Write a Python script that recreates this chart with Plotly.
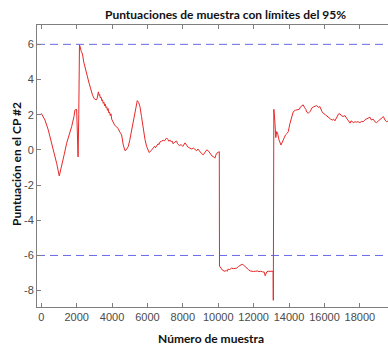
import plotly.graph_objects as go

# Sample index and PC #2 score
sample = [0, 209, 395, 550, 678, 870, 1017, 1150, 1300, 1435, 1580, 1717, 1850, 1904, 2000,
          2040, 2080, 2120, 2160, 2200, 2260, 2330, 2400, 2500, 2600, 2700, 2800, 2900, 3000,
          3100, 3150, 3200, 3230, 3270, 3300, 3340, 3380, 3420, 3460, 3500, 3540, 3580, 3620,
          3660, 3700, 3740, 3780, 3820, 3860, 3900, 3940, 3980, 4030, 4080, 4150, 4250, 4350,
          4450, 4540, 4633, 4730, 4800, 4915, 5000, 5107, 5200, 5294, 5425, 5500, 5576, 5663,
          5763, 5860, 5955, 6030, 6100, 6200, 6300, 6400, 6450, 6520, 6600, 6650, 6706, 6800,
          6900, 6950, 7000, 7085, 7150, 7200, 7300, 7350, 7400, 7450, 7550, 7650, 7700, 7800,
          7900, 8000, 8120, 8200, 8300, 8400, 8500, 8600, 8700, 8780, 8850, 8950, 9050, 9150,
          9250, 9350, 9435, 9550, 9650, 9750, 9810, 9900, 10000, 10060, 10070, 10150, 10250,
          10380, 10450, 10500, 10550, 10650, 10750, 10850, 10950, 11040, 11150, 11250, 11350,
          11410, 11500, 11600, 11700, 11800, 11900, 11980, 12100, 12200, 12300, 12400, 12500,
          12600, 12650, 12700, 12750, 12825, 12950, 13050, 13100, 13110, 13140, 13200, 13250,
          13300, 13350, 13420, 13540, 13600, 13700, 13800, 13900, 13955, 14050, 14150, 14240,
          14350, 14450, 14576, 14650, 14720, 14800, 14880, 14950, 15000, 15085, 15200, 15300,
          15400, 15500, 15560, 15650, 15745, 15850, 15930, 16050, 16150, 16250, 16350, 16450,
          16520, 16590, 16700, 16800, 16875, 16950, 17050, 17160, 17250, 17345, 17400, 17450,
          17500, 17600, 17650, 17720, 17800, 17900, 18000, 18100, 18190, 18300, 18450, 18570,
          18650, 18750, 18850, 18950, 19050, 19150, 19250, 19330, 19420, 19515, 19600]
score = [2.08, 1.70, 1.14, 0.55, 0.00, -0.76, -1.48, -0.95, -0.25, 0.38, 0.85, 1.32, 1.90, 2.27, 2.30,
         1.20, -0.40, 2.00, 5.97, 5.85, 5.60, 5.45, 5.00, 4.50, 4.20, 3.80, 3.40, 3.10, 2.90,
         2.84, 2.90, 3.10, 3.30, 3.10, 3.15, 2.95, 3.00, 2.80, 2.85, 2.65, 2.72, 2.50, 2.60,
         2.40, 2.45, 2.25, 2.35, 2.10, 2.15, 1.95, 2.05, 1.75, 1.65, 1.55, 1.40, 1.32, 1.20,
         1.00, 0.85, 0.28, -0.04, 0.00, 0.19, 0.55, 1.14, 1.75, 2.27, 2.80, 2.70, 2.46, 1.90,
         1.14, 0.60, 0.19, -0.05, -0.15, -0.05, 0.05, 0.20, 0.12, 0.25, 0.35, 0.30, 0.45, 0.50,
         0.55, 0.50, 0.60, 0.68, 0.60, 0.50, 0.55, 0.45, 0.50, 0.35, 0.45, 0.50, 0.35, 0.25,
         0.30, 0.20, 0.40, 0.30, 0.15, 0.10, 0.05, 0.10, 0.00, -0.05, 0.05, -0.10, -0.20, -0.28,
         -0.10, 0.00, -0.05, -0.20, -0.35, -0.40, -0.47, -0.20, -0.12, -0.10, -6.60, -6.75, -6.85,
         -6.90, -6.85, -6.90, -6.78, -6.80, -6.72, -6.75, -6.72, -6.72, -6.62, -6.55, -6.50,
         -6.53, -6.62, -6.75, -6.80, -6.88, -6.92, -6.91, -6.90, -6.88, -6.92, -6.90, -6.93,
         -6.95, -7.15, -7.00, -6.92, -6.90, -6.90, -6.88, -6.90, -8.55, 2.31, 1.60, 0.70,
         1.04, 0.95, 0.61, 0.28, 0.40, 0.65, 0.85, 0.95, 1.04, 1.50, 1.90, 2.18,
         2.25, 2.28, 2.31, 2.45, 2.50, 2.56, 2.40, 2.30, 2.15, 2.08, 2.20, 2.40,
         2.45, 2.48, 2.52, 2.42, 2.46, 2.20, 2.08, 2.00, 1.90, 1.85, 1.75, 1.70,
         1.75, 1.65, 1.85, 2.05, 2.05, 1.95, 1.90, 1.95, 1.80, 1.65, 1.60, 1.52,
         1.65, 1.60, 1.55, 1.60, 1.58, 1.60, 1.55, 1.62, 1.60, 1.72, 1.80, 1.86,
         1.70, 1.75, 1.60, 1.55, 1.65, 1.75, 1.80, 1.89, 1.70, 1.60, 1.65]

# 95% confidence limits
limits = [6, -6]
x_span = [-240, 19590]
y_span = [-8.93, 7.1]
x_ticks = [0, 2000, 4000, 6000, 8000, 10000, 12000, 14000, 16000, 18000]
y_ticks = [-8, -6, -4, -2, 0, 2, 4, 6]

fig = go.Figure()

for lim in limits:
    fig.add_trace(go.Scatter(
        x=x_span, y=[lim, lim], mode="lines",
        line=dict(color="rgb(105,105,230)", width=1, dash="8px,5px"),
        hoverinfo="skip", showlegend=False))

fig.add_trace(go.Scatter(
    x=sample, y=score, mode="lines",
    line=dict(color="rgb(232,40,40)", width=1),
    showlegend=False))

axis_col = "#7f7f7f"
tick_font = dict(family="Liberation Sans, Arial, sans-serif", size=11, color="#4a4a4a")
bold_font = dict(family="Lato, sans-serif", size=12, color="#111111")

fig.update_xaxes(
    range=x_span, tickvals=x_ticks, ticktext=[str(v) for v in x_ticks],
    ticks="inside", ticklen=4, tickcolor=axis_col, showline=True, linecolor=axis_col,
    linewidth=1, mirror="ticks", showgrid=False, zeroline=False, tickfont=tick_font)
fig.update_yaxes(
    range=y_span, tickvals=y_ticks, ticktext=[str(v) for v in y_ticks],
    ticks="inside", ticklen=4, tickcolor=axis_col, showline=True, linecolor=axis_col,
    linewidth=1, mirror=False, showgrid=False, zeroline=False, tickfont=tick_font)

fig.update_layout(
    width=388, height=350,
    margin=dict(l=37, r=0, t=25, b=43),
    paper_bgcolor="white", plot_bgcolor="white",
    annotations=[
        dict(text="<b>Puntuaciones de muestra con límites del 95%</b>", xref="paper", yref="paper",
             x=0.538, y=1.0355, xanchor="center", yanchor="middle", showarrow=False, font=bold_font),
        dict(text="<b>Número de muestra</b>", xref="paper", yref="paper",
             x=0.496, y=-0.11, xanchor="center", yanchor="middle", showarrow=False, font=bold_font),
        dict(text="<b>Puntuación en el CP #2</b>", xref="paper", yref="paper",
             x=-0.06, y=0.507, xanchor="center", yanchor="middle", textangle=-90,
             showarrow=False, font=bold_font),
    ],
)

fig.write_html("out.html")
